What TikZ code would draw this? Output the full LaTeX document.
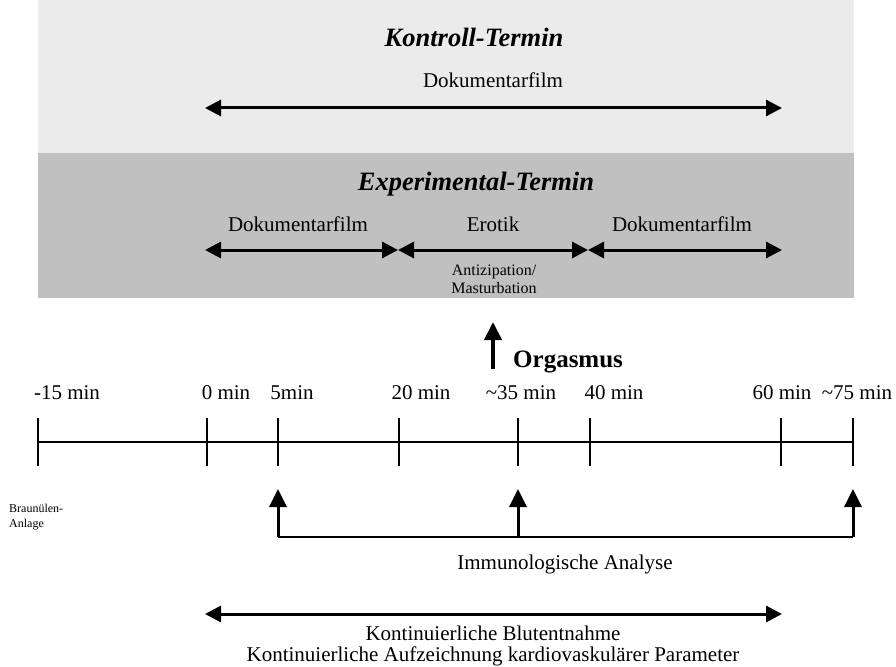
\documentclass[tikz,border=0pt]{standalone}
\usepackage{fontspec}
\setmainfont{Liberation Serif}
\usetikzlibrary{arrows.meta}
\definecolor{lightbox}{HTML}{EBEBEB}
\definecolor{darkbox}{HTML}{C0C0C0}
\begin{document}
\begin{tikzpicture}[x=1pt,y=-1pt,
  lbl/.style={inner sep=0pt, anchor=base, font=\fontsize{21}{21}\selectfont},
  ttl/.style={inner sep=0pt, anchor=base, font=\fontsize{26.5}{28}\selectfont\bfseries\itshape},
  small/.style={inner sep=0pt, align=center, font=\fontsize{16}{18}\selectfont},
  tiny/.style={inner sep=0pt, align=left, font=\fontsize{12}{15}\selectfont},
  dbl/.style={line width=3pt, {Triangle[length=16pt,width=16pt]}-{Triangle[length=16pt,width=16pt]}},
  uparrow/.style={line width=3pt, -{Triangle[length=18pt,width=17pt]}},
  axis/.style={line width=2pt},
  tick/.style={line width=2pt},
]
\useasboundingbox (0,0) rectangle (896,666);
% boxes
\fill[lightbox] (38,0) rectangle (854,153);
\fill[darkbox] (38,153) rectangle (854,298);
% Kontroll
\node[ttl] (kt) at (474,47) {Kontroll-Termin};
\node[lbl] (kdoc) at (493,88) {Dokumentarfilm};
\coordinate (kL) at (205,108);
\coordinate (kR) at (782,108);
\draw[dbl] (kL) -- (kR);
% Experimental
\node[ttl] (et) at (476,190) {Experimental-Termin};
\node[lbl] (ed1) at (298,231) {Dokumentarfilm};
\node[lbl] (eer) at (493,231) {Erotik};
\node[lbl] (ed2) at (682,231) {Dokumentarfilm};
\coordinate (e0) at (205,250);
\coordinate (e1) at (398,250);
\coordinate (e2) at (588,250);
\coordinate (e3) at (782,250);
\draw[dbl] (e0) -- (e1);
\draw[dbl] (e1) -- (e2);
\draw[dbl] (e2) -- (e3);
\node[small, anchor=base] (anti) at (494,293) {Antizipation/\\Masturbation};
% Orgasmus
\coordinate (oB) at (493,369);
\coordinate (oT) at (493,322);
\draw[line width=4pt, -{Triangle[length=18pt,width=17pt]}] (oB) -- (oT);
\node[inner sep=0pt, anchor=base west, font=\fontsize{25}{28}\selectfont\bfseries] (org) at (513,367) {Orgasmus};
% timeline
\coordinate (tA) at (38,442);
\coordinate (tB) at (853,442);
\draw[axis] (tA) -- (tB);
\foreach \x/\n in {38/a,207/b,278/c,399/d,518/e,590/f,781/g,853/h}{
  \coordinate (k\n) at (\x,418);
  \coordinate (l\n) at (\x,466);
  \draw[tick] (k\n) -- (l\n);
}
\node[lbl] (m1) at (67,399) {-15 min};
\node[lbl] (m2) at (226,399) {0 min};
\node[lbl] (m3) at (292,399) {5min};
\node[lbl] (m4) at (421,399) {20 min};
\node[lbl] (m5) at (521,399) {\textasciitilde35 min};
\node[lbl] (m6) at (614,399) {40 min};
\node[lbl] (m7) at (782,399) {60 min};
\node[lbl] (m8) at (857,399) {\textasciitilde75 min};
\node[tiny, anchor=base west] (brau) at (9,527) {Braunülen-\\Anlage};
% immunological
\coordinate (u1b) at (278,537);
\coordinate (u1t) at (278,489);
\coordinate (u2b) at (518,537);
\coordinate (u2t) at (518,489);
\coordinate (u3b) at (853,537);
\coordinate (u3t) at (853,489);
\draw[line width=2pt] (u1b) -- (u3b);
\draw[uparrow] (u1b) -- (u1t);
\draw[uparrow] (u2b) -- (u2t);
\draw[uparrow] (u3b) -- (u3t);
\node[lbl] (imm) at (565,569) {Immunologische Analyse};
% bottom
\coordinate (bL) at (205,614);
\coordinate (bR) at (782,614);
\draw[dbl] (bL) -- (bR);
\node[inner sep=0pt, anchor=base, align=center, font=\fontsize{21}{20.5}\selectfont] (b1) at (493,661) {Kontinuierliche Blutentnahme\\Kontinuierliche Aufzeichnung kardiovaskulärer Parameter};
\end{tikzpicture}
\end{document}
